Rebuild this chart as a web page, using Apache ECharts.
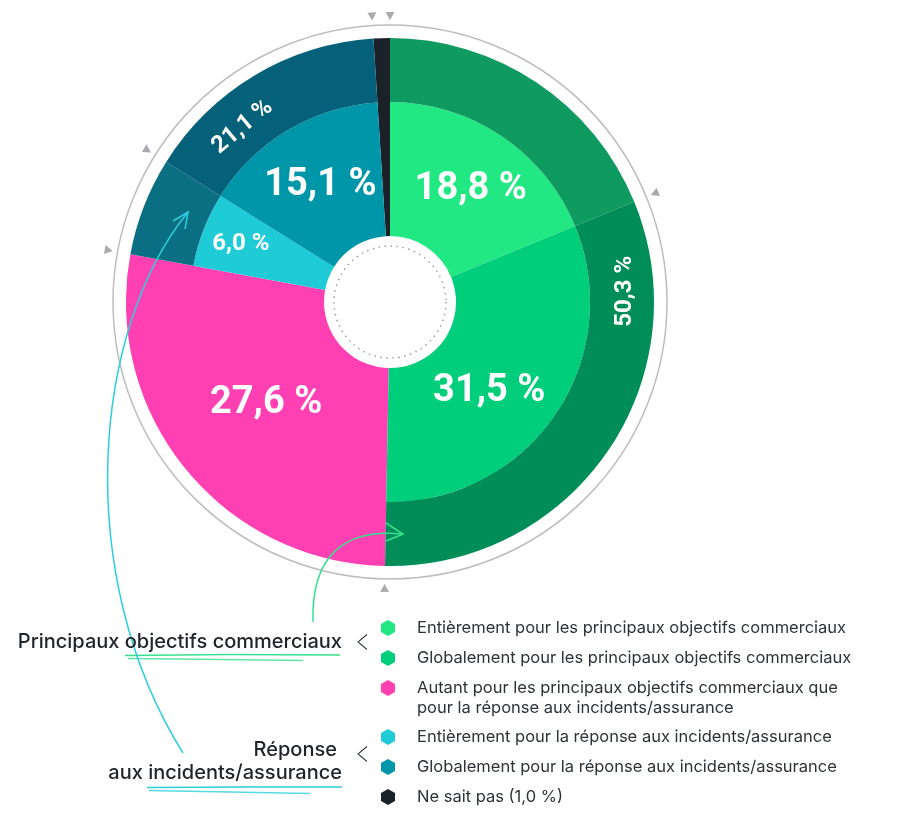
<!DOCTYPE html>
<html>
<head>
<meta charset="utf-8">
<script src="https://cdn.jsdelivr.net/npm/echarts@6/dist/echarts.min.js"></script>
<style>
html,body{margin:0;padding:0;background:#fff;}
#chart{width:900px;height:829px;}
</style>
</head>
<body>
<div id="chart"></div>
<script>
// ---- data ----
const categories = [
  'Entièrement pour les principaux objectifs commerciaux',
  'Globalement pour les principaux objectifs commerciaux',
  'Autant pour les principaux objectifs commerciaux que pour la réponse aux incidents/assurance',
  'Entièrement pour la réponse aux incidents/assurance',
  'Globalement pour la réponse aux incidents/assurance',
  'Ne sait pas (1,0 %)'
];
const values = [18.8, 31.5, 27.6, 6.0, 15.1, 1.0];
const groupNames = ['Principaux objectifs commerciaux', 'Autant', 'Réponse aux incidents/assurance', 'Ne sait pas'];
const groupValues = [50.3, 27.6, 21.1, 1.0];
const pinkLines = ['Autant pour les principaux objectifs commerciaux que', 'pour la réponse aux incidents/assurance'];

// ---- styles ----
const innerColors = ['#22E884', '#00CE7A', 'transparent', '#1FCBD6', '#0096A9', 'transparent'];
const outerColors = ['#0F9A5F', '#008D58', 'transparent', '#0A6F82', '#05607A', 'transparent'];
const fullColors  = ['transparent', 'transparent', '#FF40B3', 'transparent', 'transparent', '#1B2129'];
const legendColors = ['#22E884', '#00CE7A', '#FF40B3', '#1FCBD6', '#0096A9', '#1B2129'];
const FONT = 'Inter, "Noto Sans", sans-serif';
const LFONT = 'Roboto, "Noto Sans", sans-serif';
const CX = 390, CY = 302;
const R0 = 66, R1 = 200, R2 = 264;

const fmt = v => v.toFixed(1).replace('.', ',') + ' %';

const chart = echarts.init(document.getElementById('chart'), null, {renderer: 'canvas'});

const bigLabel = {show: true, position: 'inside', color: '#fff', fontFamily: LFONT, fontWeight: 'bold', fontSize: 38, formatter: p => fmt(p.value)};
const smallLabel = {show: true, position: 'inside', color: '#fff', fontFamily: LFONT, fontWeight: 'bold', fontSize: 24, formatter: p => fmt(p.value)};
const withPad = (base, pad, extra) => Object.assign({}, base, {padding: pad}, extra || {});

const innerLabels = [bigLabel, bigLabel, null, null, bigLabel, null];
const innerData = values.map((v, i) => ({
  name: categories[i], value: v,
  itemStyle: {color: innerColors[i]},
  label: innerLabels[i] ? innerLabels[i] : {show: false}
}));
const outerData = values.map((v, i) => ({
  name: categories[i], value: v,
  itemStyle: {color: outerColors[i]}
}));
const fullData = values.map((v, i) => ({
  name: categories[i], value: v,
  itemStyle: {color: fullColors[i]}
}));
const extraShow = [null, null, bigLabel, smallLabel, null, null];
const extraData = values.map((v, i) => ({
  name: categories[i], value: v,
  itemStyle: {color: 'transparent'},
  label: extraShow[i] ? extraShow[i] : {show: false}
}));
const groupLabels = [
  withPad(smallLabel, [0, 0, 0, 26], {rotate: 90}),
  null,
  Object.assign({}, smallLabel, {rotate: 40}),
  null
];
const groupData = groupValues.map((v, i) => ({
  name: groupNames[i], value: v,
  itemStyle: {color: 'transparent'},
  label: groupLabels[i] ? groupLabels[i] : {show: false}
}));

const basePie = {
  type: 'pie', center: [CX, CY], startAngle: 90, clockwise: true,
  avoidLabelOverlap: false, labelLine: {show: false},
  emphasis: {disabled: true}, animation: false
};

// triangles at every boundary
const graphics = [];
let cum = 0;
const bounds = [0];
values.forEach((v, i) => { cum += v; if (i < values.length - 1) bounds.push(cum); });
const total = values.reduce((a, b) => a + b, 0);
bounds.forEach(b => {
  const th = b / total * Math.PI * 2;
  const s = Math.sin(th), c = Math.cos(th);
  const tip = [CX + 282 * s, CY - 282 * c];
  const bc = [CX + 290 * s, CY - 290 * c];
  const h = 4.5;
  graphics.push({type: 'polygon', z: 50, silent: true,
    shape: {points: [tip, [bc[0] + h * c, bc[1] + h * s], [bc[0] - h * c, bc[1] - h * s]]},
    style: {fill: '#A9ABAE'}});
});

// outer grey circle and dotted inner circle
graphics.push({type: 'circle', z: 1, silent: true, shape: {cx: CX, cy: CY, r: 277}, style: {fill: 'none', stroke: '#BDBDBD', lineWidth: 1.5}});
graphics.push({type: 'circle', z: 50, silent: true, shape: {cx: CX, cy: CY, r: 56}, style: {fill: 'none', stroke: '#9E9E9E', lineWidth: 1.5, lineDash: [1.5, 4.5]}});

// arrows
const cyan = '#2CCFDB', green = '#38E08E';
graphics.push({type: 'bezierCurve', z: 60, silent: true,
  shape: {x1: 183, y1: 753, cpx1: 72, cpy1: 575, cpx2: 92, cpy2: 330, x2: 188, y2: 212},
  style: {fill: 'none', stroke: cyan, lineWidth: 1.5}});
graphics.push({type: 'polyline', z: 60, silent: true,
  shape: {points: [[173, 221], [188, 212], [185, 229]]},
  style: {fill: 'none', stroke: cyan, lineWidth: 1.5}});
graphics.push({type: 'bezierCurve', z: 60, silent: true,
  shape: {x1: 313, y1: 622, cpx1: 311, cpy1: 555, cpx2: 345, cpy2: 528, x2: 403, y2: 534},
  style: {fill: 'none', stroke: green, lineWidth: 1.5}});
graphics.push({type: 'polyline', z: 60, silent: true,
  shape: {points: [[386, 523], [403, 534], [386, 541]]},
  style: {fill: 'none', stroke: green, lineWidth: 1.5}});

// left group labels
const GF = '500 20px ' + FONT;
graphics.push({type: 'text', z: 60, style: {text: groupNames[0], x: 342, y: 642, align: 'right', verticalAlign: 'middle', font: GF, fill: '#1F242A'}});
graphics.push({type: 'text', z: 60, style: {text: 'Réponse', x: 337, y: 750, align: 'right', verticalAlign: 'middle', font: GF, fill: '#1F242A'}});
graphics.push({type: 'text', z: 60, style: {text: 'aux incidents/assurance', x: 342, y: 773, align: 'right', verticalAlign: 'middle', font: GF, fill: '#1F242A'}});
// underlines
graphics.push({type: 'polyline', z: 55, silent: true, shape: {points: [[125, 655.5], [230, 654.5], [340, 655]]}, style: {fill: 'none', stroke: green, lineWidth: 1.6}});
graphics.push({type: 'polyline', z: 55, silent: true, shape: {points: [[128, 658.5], [220, 659.5], [303, 660.5]]}, style: {fill: 'none', stroke: green, lineWidth: 1.3, opacity: 0.8}});
graphics.push({type: 'polyline', z: 55, silent: true, shape: {points: [[147, 787.5], [250, 787], [342, 787]]}, style: {fill: 'none', stroke: cyan, lineWidth: 1.6}});
graphics.push({type: 'polyline', z: 55, silent: true, shape: {points: [[149, 790.5], [230, 792], [310, 793.5]]}, style: {fill: 'none', stroke: cyan, lineWidth: 1.3, opacity: 0.8}});
// chevrons
[642, 754].forEach(y => graphics.push({type: 'polyline', z: 55, silent: true,
  shape: {points: [[367, y - 7.5], [358, y], [367, y + 7.5]]}, style: {fill: 'none', stroke: '#3A3F45', lineWidth: 1.1}}));
// second line of the pink legend item
graphics.push({type: 'text', z: 60, style: {text: pinkLines[1], x: 417, y: 708, align: 'left', verticalAlign: 'middle', font: '400 16.5px ' + FONT, fill: '#2D3238'}});

const hex = 'path://M7,0 L14,4 L14,12 L7,16 L0,12 L0,4 Z';
const legendBase = {
  orient: 'vertical', left: 381, padding: 0, itemGap: 10,
  itemWidth: 48, itemHeight: 16, symbolKeepAspect: true, icon: hex,
  selectedMode: false,
  textStyle: {fontFamily: FONT, fontSize: 16.5, color: '#2D3238', lineHeight: 20},
  formatter: name => name === categories[2] ? pinkLines[0] : name
};
const legendItems = categories.map((n, i) => ({name: n, itemStyle: {color: legendColors[i]}}));

chart.setOption({
  backgroundColor: '#fff',
  animation: false,
  legend: [
    Object.assign({}, legendBase, {top: 618, data: legendItems.slice(0, 3)}),
    Object.assign({}, legendBase, {top: 727, data: legendItems.slice(3)})
  ],
  graphic: graphics,
  series: [
    Object.assign({}, basePie, {name: 'full', radius: [R0, R2], data: fullData, label: {show: false}, silent: true, z: 2}),
    Object.assign({}, basePie, {name: 'inner', radius: [R0, R1], data: innerData, z: 2,
      labelLayout: p => p.dataIndex === 1 ? {dx: -13, dy: 13} : (p.dataIndex === 0 ? {dx: 5} : {})}),
    Object.assign({}, basePie, {name: 'outer', radius: [R1, R2], data: outerData, label: {show: false}, z: 2}),
    Object.assign({}, basePie, {name: 'labels', radius: [R0, 248], data: extraData, silent: true, z: 3}),
    Object.assign({}, basePie, {name: 'groups', radius: [R1, R2], data: groupData, silent: true, z: 3,
      labelLayout: p => p.dataIndex === 2 ? {dx: 6, dy: 6} : {}})
  ]
});
</script>
</body>
</html>
